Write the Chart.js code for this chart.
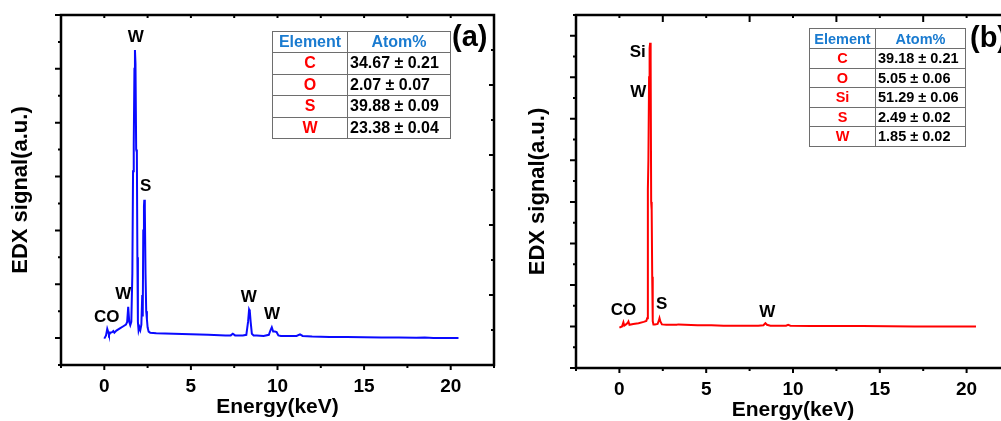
<!DOCTYPE html>
<html>
<head>
<title>EDX spectra</title>
<script src="https://cdn.jsdelivr.net/npm/chart.js"></script>
<style>
  body { margin:0; width:1001px; height:421px; overflow:hidden; background:#fff; position:relative;
         font-family:"Liberation Sans", Arial, sans-serif; }
  canvas { position:absolute; top:0; }
  table { position:absolute; border-collapse:collapse; font-weight:bold; color:#000; }
  td { border:1.5px solid #6e6e6e; padding:0; white-space:nowrap; }
  td.h { color:#1a7bd0; text-align:center; }
  td.el { color:#f00; text-align:center; }
  td.v { padding-left:2px; }
  .tag { position:absolute; font-weight:bold; font-size:29px; }
</style>
</head>
<body>
<canvas id="chartA" width="500" height="421" style="left:0"></canvas>
<canvas id="chartB" width="520" height="424" style="left:500px"></canvas>
<table id="tabA" style="left:272px; top:31px; font-size:16px;"></table>
<table id="tabB" style="left:809px; top:28px; font-size:14.5px;"></table>
<div class="tag" style="left:452px; top:20px;">(a)</div>
<div class="tag" style="left:970px; top:21px;">(b)</div>

<script>
// panel (a) spectrum
const energyA = [0, 0.1, 0.17, 0.22, 0.27, 0.35, 0.45, 0.52, 0.58, 0.7, 0.9, 1.1, 1.25, 1.32, 1.38, 1.44, 1.5, 1.56,
  1.62, 1.66, 1.7, 1.74, 1.77, 1.8, 1.84, 1.88, 1.91, 1.94, 1.98, 2.03, 2.08, 2.14, 2.19, 2.22, 2.25, 2.29, 2.31,
  2.34, 2.38, 2.42, 2.46, 2.5, 2.56, 2.65, 3, 4, 5, 6, 7, 7.3, 7.42, 7.55, 8, 8.2, 8.3, 8.36, 8.4, 8.45, 8.52, 8.62,
  8.8, 9.2, 9.5, 9.6, 9.67, 9.75, 9.85, 9.95, 10.05, 10.2, 10.5, 11.1, 11.3, 11.45, 12, 13, 14, 15, 16, 17, 18,
  18.5, 19, 20, 20.45];
const signalA = [-0.01, 0.05, 0.17, 0.12, 0.06, 0.1, 0.11, 0.13, 0.1, 0.14, 0.18, 0.22, 0.25, 0.3, 0.58, 0.3, 0.24, 0.3,
  1.2, 3.1, 3.6, 5.0, 5.35, 5.1, 3.5, 3.45, 1.5, 0.3, 0.14, 0.2, 0.15, 0.25, 0.8, 0.4, 2.0, 2.45, 2.57,
  2.4, 1.2, 0.5, 0.35, 0.2, 0.12, 0.1, 0.09, 0.08, 0.07, 0.06, 0.05, 0.05, 0.08, 0.05, 0.05, 0.06, 0.3, 0.53, 0.5, 0.3, 0.08, 0.05,
  0.05, 0.04, 0.06, 0.15, 0.2, 0.12, 0.12, 0.11, 0.05, 0.04, 0.04, 0.04, 0.07, 0.04, 0.03, 0.02, 0.02, 0.015, 0.01, 0.01, 0.005,
  0.01, 0.0, 0.0, 0.0];

// panel (b) spectrum
const energyB = [0, 0.15, 0.23, 0.28, 0.38, 0.47, 0.52, 0.58, 0.8, 1.1, 1.4, 1.55, 1.6, 1.64, 1.67, 1.71, 1.74, 1.77,
  1.8, 1.83, 1.86, 1.89, 1.92, 1.96, 2.05, 2.2, 2.27, 2.31, 2.36, 2.45, 2.7, 3.3, 3.4, 4.5, 5.3, 6, 8, 8.3, 8.41,
  8.5, 8.7, 9.6, 9.72, 9.85, 11, 14, 17, 20, 20.54];
const signalB = [-0.03, 0.0, 0.1, 0.02, 0.05, 0.08, 0.12, 0.04, 0.06, 0.08, 0.11, 0.13, 0.2, 3.3, 4.0, 6.0, 6.7, 6.83,
  6.4, 3.0, 2.8, 1.2, 0.13, 0.05, 0.05, 0.06, 0.14, 0.2, 0.12, 0.05, 0.04, 0.04, 0.05, 0.03, 0.03, 0.02, 0.02, 0.03, 0.08,
  0.04, 0.02, 0.02, 0.04, 0.02, 0.01, 0.01, 0.0, 0.0, 0.0];

const xTickValues = [0, 5, 10, 15, 20];

// peak annotations (keV, signal)
const peakTextA = ['W', 'S', 'W', 'CO', 'W', 'W'];
const peakXA = [1.81, 2.39, 1.1, 0.14, 8.34, 9.68];
const peakYA = [5.58, 2.81, 0.81, 0.38, 0.76, 0.45];
const peakTextB = ['Si', 'W', 'CO', 'S', 'W'];
const peakXB = [1.06, 1.08, 0.23, 2.44, 8.52];
const peakYB = [6.6, 5.64, 0.39, 0.53, 0.35];

// composition tables
const elementsA = ['C', 'O', 'S', 'W'];
const atomA = ['34.67 ± 0.21', '2.07 ± 0.07', '39.88 ± 0.09', '23.38 ± 0.04'];
const elementsB = ['C', 'O', 'Si', 'S', 'W'];
const atomB = ['39.18 ± 0.21', '5.05 ± 0.06', '51.29 ± 0.06', '2.49 ± 0.02', '1.85 ± 0.02'];

function fillTable(id, els, vals, w1, w2, hh, rh) {
  let html = `<tr style="height:${hh}px"><td class="h" style="width:${w1}px">Element</td><td class="h" style="width:${w2}px">Atom%</td></tr>`;
  els.forEach((e, i) => {
    html += `<tr style="height:${rh}px"><td class="el">${e}</td><td class="v">${vals[i]}</td></tr>`;
  });
  document.getElementById(id).innerHTML = html;
}
fillTable('tabA', elementsA, atomA, 74, 102, 21, 21.5);
fillTable('tabB', elementsB, atomB, 65, 89, 20, 19.5);

Chart.defaults.font.family = '"Liberation Sans", Arial, sans-serif';
Chart.defaults.font.weight = 'bold';
Chart.defaults.color = '#000';

// frame, minor/major ticks and peak labels
const framePlugin = {
  id: 'frame',
  afterDatasetsDraw(chart, args, o) {
    const { ctx, chartArea: a, scales } = chart;
    const xs = scales.x, ys = scales.y;
    ctx.save();
    ctx.strokeStyle = '#000';
    ctx.lineWidth = 2;
    ctx.beginPath();
    for (let v = xs.min; v <= xs.max + 1e-6; v += 2.5) {
      const px = xs.getPixelForValue(v);
      const major = Math.abs(v % 5) < 1e-6;
      ctx.moveTo(px, a.bottom);
      ctx.lineTo(px, a.bottom + (major ? 5 : 3));
      const tl = o.topLong === 'minor' ? (major ? 3 : 7) : 3;
      ctx.moveTo(px, a.top);
      ctx.lineTo(px, a.top + tl);
    }
    for (let v = ys.min; v <= ys.max + 1e-6; v += 0.5) {
      const py = ys.getPixelForValue(v);
      const major = Math.abs(v % 1) < 1e-6;
      ctx.moveTo(a.left, py);
      ctx.lineTo(a.left - (major ? 6 : 3), py);
    }
    if (scales.y2) {
      for (let v = 1; v < scales.y2.max; v++) {
        const py = scales.y2.getPixelForValue(v);
        ctx.moveTo(a.right, py);
        ctx.lineTo(a.right - (v % 2 === 0 ? 5 : 3), py);
      }
    }
    ctx.stroke();
    ctx.lineWidth = 2.5;
    ctx.strokeRect(a.left, a.top, a.right - a.left, a.bottom - a.top);
    ctx.fillStyle = '#000';
    ctx.font = 'bold 17px "Liberation Sans", Arial, sans-serif';
    ctx.textAlign = 'center';
    ctx.textBaseline = 'middle';
    o.text.forEach((t, i) => {
      ctx.fillText(t, xs.getPixelForValue(o.px[i]), ys.getPixelForValue(o.py[i]));
    });
    ctx.restore();
  }
};

function makePanel(id, ex, sig, color, yMin, yMax, p) {
  const scales = {
    x: {
      type: 'linear', min: -2.5, max: 22.5,
      grid: { display: false, drawTicks: false }, border: { display: false },
      afterBuildTicks: s => { s.ticks = xTickValues.map(v => ({ value: v })); },
      afterFit: s => { s.height = p.xh; },
      ticks: { font: { size: 19, weight: 'bold' }, padding: 10, maxRotation: 0, autoSkip: false },
      title: { display: true, text: 'Energy(keV)', font: { size: 21, weight: 'bold' }, padding: { top: 0, bottom: p.xtPad } }
    },
    y: {
      type: 'linear', min: yMin, max: yMax,
      grid: { display: false, drawTicks: false }, border: { display: false },
      ticks: { display: false },
      afterFit: s => { s.width = p.yw; },
      title: { display: true, text: 'EDX signal(a.u.)', font: { size: 22, weight: 'bold' }, padding: { top: p.ytPad, bottom: 0 } }
    }
  };
  if (p.right) {
    scales.y2 = { type: 'linear', position: 'right', min: 0, max: 10, display: false };
  }
  return new Chart(document.getElementById(id), {
    type: 'line',
    data: {
      datasets: [{
        data: ex.map((x, i) => ({ x: x, y: sig[i] })),
        borderColor: color, borderWidth: 2, pointRadius: 0, tension: 0, fill: false
      }]
    },
    options: {
      responsive: false, animation: false, devicePixelRatio: 1,
      layout: { padding: { top: 15, right: p.rightPad, left: 0, bottom: 0 } },
      plugins: {
        legend: { display: false }, tooltip: { enabled: false },
        frame: { text: p.text, px: p.px, py: p.py, topLong: p.topLong }
      },
      scales: scales
    },
    plugins: [framePlugin]
  });
}

makePanel('chartA', energyA, signalA, '#0a0aff', -0.5, 6, {
  xh: 56, yw: 61, rightPad: 6, xtPad: 1, ytPad: 8, right: true, topLong: 'none',
  text: peakTextA, px: peakXA, py: peakYA
});
makePanel('chartB', energyB, signalB, '#ff0000', -1, 7.5, {
  xh: 56, yw: 76, rightPad: 10, xtPad: 1, ytPad: 25, right: false, topLong: 'minor',
  text: peakTextB, px: peakXB, py: peakYB
});
</script>
</body>
</html>
